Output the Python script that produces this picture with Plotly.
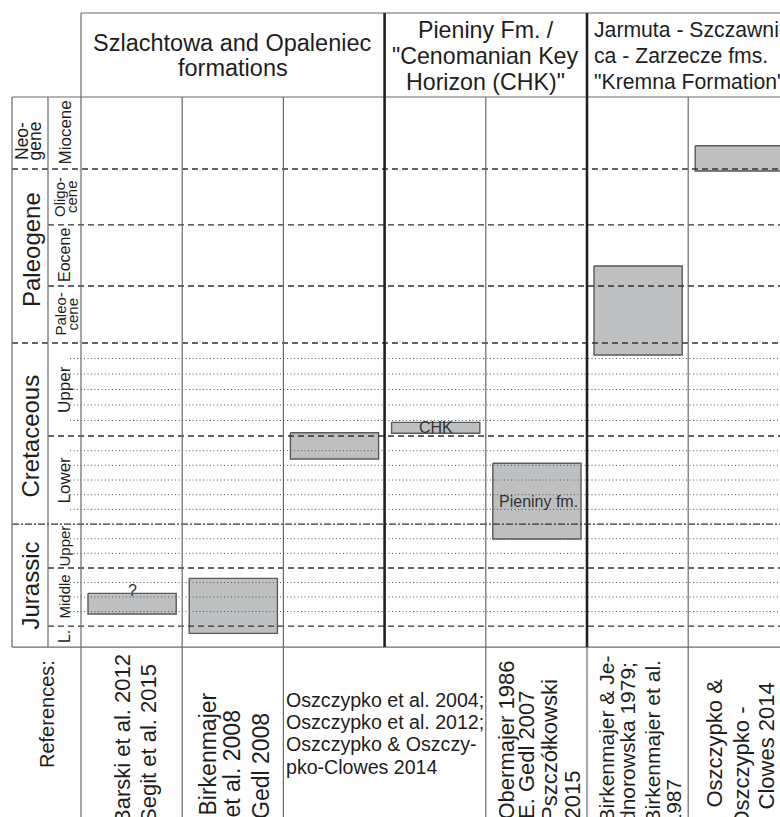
import plotly.graph_objects as go

# ----------------------------- data -----------------------------
PERIOD_LABELS = ["Neo-\ngene", "Paleogene", "Cretaceous", "Jurassic"]
EPOCH_LABELS = ["Miocene", "Oligo-\ncene", "Eocene", "Paleo-\ncene",
                "Upper", "Lower", "Upper", "Middle", "L."]
EPOCH_PERIOD = [0, 1, 1, 1, 2, 2, 3, 3, 3]
EPOCH_HEIGHT = [4.8, 3.73, 4.07, 3.8, 6.2, 5.87, 2.93, 3.87, 1.4]   # schematic scale units
EPOCH_STAGES = [1, 1, 1, 1, 6, 6, 3, 4, 1]

GROUP_TITLES = [["Szlachtowa and Opaleniec", "formations"],
                ["Pieniny Fm. /", "\"Cenomanian Key", "Horizon (CHK)\""],
                ["Jarmuta - Szczawni-", "ca - Zarzecze fms.", "\"Kremna Formation\""]]
GROUP_COLUMNS = [3, 2, 2]

BOX_COLUMN = [0, 1, 2, 3, 4, 5, 6]
BOX_TOP = [33.09, 32.09, 22.38, 21.69, 24.42, 11.27, 3.25]
BOX_BOTTOM = [34.47, 35.76, 24.13, 22.42, 29.47, 17.2, 4.93]
BOX_LABEL = ["?", "", "", "CHK", "Pieniny fm.", "", ""]

REF_TITLE = "References:"
REF_START = [0, 1, 2, 4, 5, 6]
REF_END = [1, 2, 4, 5, 6, 7]
REF_LINES = [["Barski et al. 2012", "Segit et al. 2015"],
             ["Birkenmajer", "et al. 2008", "Gedl 2008"],
             ["Oszczypko et al. 2004;", "Oszczypko et al. 2012;",
              "Oszczypko & Oszczy-", "pko-Clowes 2014"],
             ["Obermajer 1986", "E. Gedl 2007", "Pszczółkowski", "2015"],
             ["Birkenmajer & Je-", "dnorowska 1979;", "Birkenmajer et al.", "1987"],
             ["Oszczypko &", "Oszczypko -", "Clowes 2014"]]
REF_ROTATED = [True, True, False, True, True, True]

# ----------------------------- layout geometry (screen pixels) -----------------------------
X_COL0, COL_PX = 81.0, 101.2      # left edge of first data column, px per column
Y_TOP, UNIT_PX = 97.0, 15.0       # top of chart body, px per scale unit
W, H = 780, 817


def X(p):
    return (p - X_COL0) / COL_PX


def Y(p):
    return (p - Y_TOP) / UNIT_PX


X_LEFT, X_EPOCH, X_DOT = X(12), X(48), X(70)
X_RIGHT = X(800)
Y_HEAD = Y(13)
Y_PAGE_END = Y(830)

REF_LINE_X = [[122, 148.5], [207, 231, 261], None,
              [506, 526, 549, 572], [606, 627, 652, 673], [714, 741, 766]]
REF_LINE_END = [[653, 663], [692, 710, 712], None,
                [660, 690, 678, 770], [655, 661, 660, 778], [678, 706, 682]]
REF_FONT = [22, 23, 19.6, 22, 21, 22]
PERIOD_SHIFT = [0, -6, 3, 0]      # px nudges of the period labels

FONT = "Liberation Sans, Arial, Helvetica, sans-serif"
TXT = "#1e1e1e"
THIN = dict(color="#6a6a6a", width=1.2)
THICK = dict(color="#222222", width=2.6)
DASH = dict(color="#333333", width=1.3, dash="6px,4px")
DASHDOT = dict(color="#333333", width=1.3, dash="7px,2px,2px,2px")
DOT = dict(color="#555555", width=1.0, dash="1px,2.5px")
BOX_FILL, BOX_LINE = "#bdbfc0", "#5a5a5a"

fig = go.Figure()

# ----------------------------- boxes (traces) -----------------------------
for c, t, b in zip(BOX_COLUMN, BOX_TOP, BOX_BOTTOM):
    x0, x1 = c + 7 / COL_PX, c + 1 - 6 / COL_PX
    fig.add_trace(go.Scatter(x=[x0, x1, x1, x0, x0], y=[t, t, b, b, t],
                             mode="lines", fill="toself", fillcolor=BOX_FILL,
                             line=dict(color=BOX_LINE, width=1.4),
                             hoverinfo="skip", showlegend=False))

shapes = []


def hline(y, x0, x1, line):
    shapes.append(dict(type="line", xref="x", yref="y", x0=x0, x1=x1, y0=y, y1=y, line=line))


def vline(x, y0, y1, line):
    shapes.append(dict(type="line", xref="x", yref="y", x0=x, x1=x, y0=y0, y1=y1, line=line))


# ----------------------------- stratigraphic lines -----------------------------
bounds = [0.0]
for h in EPOCH_HEIGHT:
    bounds.append(bounds[-1] + h)
Y_BOTTOM = bounds[-1]

for i in range(len(EPOCH_HEIGHT)):
    top, bot = bounds[i], bounds[i + 1]
    n = EPOCH_STAGES[i]
    for k in range(1, n):
        hline(top + (bot - top) * k / n, X_DOT, X_RIGHT, DOT)
    if i > 0:
        if EPOCH_PERIOD[i] != EPOCH_PERIOD[i - 1]:
            style = DASHDOT if PERIOD_LABELS[EPOCH_PERIOD[i]] == "Jurassic" else DASH
            hline(top, X_LEFT, X_RIGHT, style)
        else:
            hline(top, X_EPOCH, X_RIGHT, DASH)

# frame
ncols = sum(GROUP_COLUMNS)
hline(Y_HEAD, 0, X_RIGHT, THIN)
hline(0, X_LEFT, X_RIGHT, THIN)
hline(Y_BOTTOM, X_LEFT, X_RIGHT, THIN)
vline(X_LEFT, 0, Y_BOTTOM, THIN)
vline(X_EPOCH, 0, Y_BOTTOM, THIN)

group_edges = [0]
for g in GROUP_COLUMNS:
    group_edges.append(group_edges[-1] + g)
ref_edges = set(REF_START) | set(REF_END)
for c in range(ncols + 1):
    if c in group_edges:
        top = Y_HEAD
        style = THICK if 0 < c < ncols else THIN
    else:
        top = 0
        style = THIN
    vline(c, top, Y_BOTTOM, style)
    if c in ref_edges:
        vline(c, Y_BOTTOM, Y_PAGE_END, THIN)

# ----------------------------- annotations -----------------------------
ann = []


def text(x, y, s, size, angle=0, xa="center", ya="middle", yshift=0, color=TXT):
    ann.append(dict(x=x, y=y, xref="x", yref="y", text=s, showarrow=False,
                    textangle=angle, xanchor=xa, yanchor=ya, yshift=yshift,
                    font=dict(family=FONT, size=size, color=color), borderpad=0))


# header titles
HEAD_FONT = [23.5, 23.2, 21.2]
for gi, lines in enumerate(GROUP_TITLES):
    n = len(lines)
    pitch = 24.5 if n == 2 else 26.0
    c0 = group_edges[gi]
    for li, s in enumerate(lines):
        ypx = 55.5 + (li - (n - 1) / 2) * pitch
        if gi == 2:
            text(c0 + 6 / COL_PX, Y(ypx), s, HEAD_FONT[gi], xa="left")
        else:
            text(c0 + GROUP_COLUMNS[gi] / 2, Y(ypx), s, HEAD_FONT[gi])

# period labels
for p, lab in enumerate(PERIOD_LABELS):
    idx = [i for i, e in enumerate(EPOCH_PERIOD) if e == p]
    yc = (bounds[idx[0]] + bounds[idx[-1] + 1]) / 2 + PERIOD_SHIFT[p] / UNIT_PX
    parts = lab.split("\n")
    if len(parts) == 1:
        text(X(31), yc, lab, 24, angle=-90)
    else:
        for li, s in enumerate(parts):
            text(X(22 + 12.5 * li), Y(141), s, 17.5, angle=-90)

# epoch labels
EPOCH_FONT = [17, 15, 16, 15, 17, 17, 15, 15, 16]
for i, lab in enumerate(EPOCH_LABELS):
    yc = (bounds[i] + bounds[i + 1]) / 2
    parts = lab.split("\n")
    if len(parts) == 1:
        text(X(64.5), yc, lab, EPOCH_FONT[i], angle=-90)
    else:
        for li, s in enumerate(parts):
            text(X(60 + 12 * li), yc, s, EPOCH_FONT[i], angle=-90)

# box labels
for c, t, b, lab in zip(BOX_COLUMN, BOX_TOP, BOX_BOTTOM, BOX_LABEL):
    if not lab:
        continue
    xc = c + 0.5 + 0.5 / COL_PX
    if lab == "?":
        text(xc, t, lab, 16, yshift=3, color="#333333")
    else:
        text(xc + (1.5 / COL_PX if lab != "CHK" else 0), (t + b) / 2, lab, 16,
             color="#333333")

# references
text(X(47), Y(714), REF_TITLE, 20, angle=-90)
for k, lines in enumerate(REF_LINES):
    if REF_ROTATED[k]:
        for li, s in enumerate(lines):
            text(X(REF_LINE_X[k][li]), Y(REF_LINE_END[k][li]), s, REF_FONT[k],
                 angle=-90, ya="top")
    else:
        for li, s in enumerate(lines):
            text(REF_START[k] + 2 / COL_PX, Y(700 + 22.2 * li), s, REF_FONT[k], xa="left")

fig.update_layout(
    width=W, height=H, margin=dict(l=0, r=0, t=0, b=0),
    paper_bgcolor="white", plot_bgcolor="white", showlegend=False,
    xaxis=dict(range=[X(0), X(W)], visible=False, fixedrange=True),
    yaxis=dict(range=[Y(H), Y(0)], visible=False, fixedrange=True),
    shapes=shapes, annotations=ann,
)

fig.write_html("out.html", config={"displayModeBar": False},
               post_script="document.body.style.margin='0px';"
                           "document.body.style.overflow='hidden';")
